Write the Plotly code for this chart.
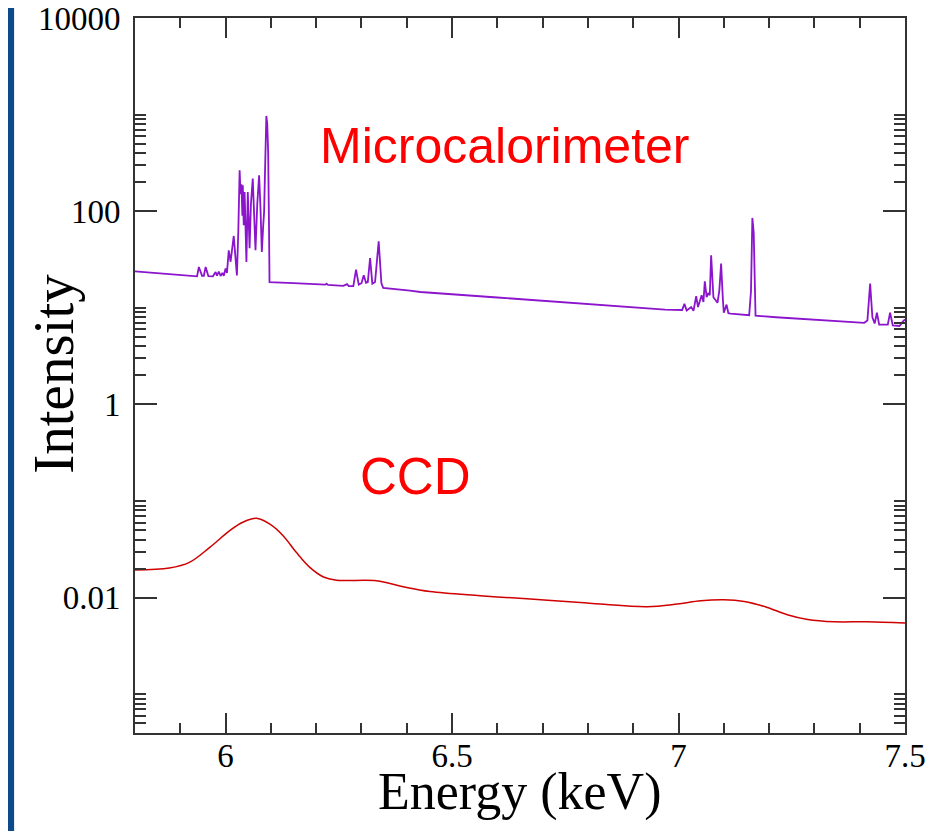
import plotly.graph_objects as go

# Microcalorimeter spectrum (energy keV, intensity)
mc_energy = [5.80, 5.93, 5.937, 5.941, 5.948, 5.952, 5.956, 5.962, 5.972, 5.978, 5.981, 5.985,
             5.989, 5.993, 5.996, 6.000, 6.003, 6.007, 6.011, 6.018, 6.022, 6.025, 6.028, 6.031,
             6.033, 6.035, 6.037, 6.038, 6.040, 6.042, 6.046, 6.049, 6.053, 6.056, 6.060, 6.063,
             6.066, 6.070, 6.074, 6.077, 6.080, 6.083, 6.085, 6.088, 6.090, 6.092, 6.094, 6.096,
             6.097, 6.15, 6.22, 6.223, 6.226, 6.26, 6.268, 6.272, 6.282, 6.288, 6.294, 6.300,
             6.305, 6.310, 6.314, 6.319, 6.324, 6.330, 6.338, 6.344, 6.348, 6.407, 6.43, 6.60,
             6.83, 6.97, 7.008, 7.013, 7.018, 7.028, 7.033, 7.039, 7.043, 7.051, 7.055, 7.058,
             7.062, 7.066, 7.069, 7.072, 7.077, 7.082, 7.086, 7.090, 7.094, 7.098, 7.100, 7.106,
             7.110, 7.115, 7.156, 7.160, 7.163, 7.166, 7.170, 7.215, 7.30, 7.41, 7.417, 7.423,
             7.428, 7.433, 7.438, 7.443, 7.462, 7.467, 7.473, 7.488, 7.495, 7.50]
mc_intensity = [23.9, 21.2, 21.2, 26.5, 21.5, 21.5, 26.5, 21.3, 21.2, 23.5, 21.5, 23.8,
                21.4, 23.0, 21.5, 25.5, 23.0, 39.4, 30.0, 55.5, 35.0, 21.6, 60.0, 266,
                150, 190, 90, 186, 71.6, 158, 29.8, 158, 41.4, 120, 218, 100,
                39.4, 120, 236, 110, 37.8, 70, 98, 400, 970, 800, 411, 60,
                18.5, 18.0, 17.4, 17.8, 17.3, 16.9, 17.6, 16.8, 16.8, 24.9, 17.4, 18.0,
                21.7, 18.2, 18.5, 32.8, 17.8, 18.5, 48.9, 18.0, 16.1, 15.1, 14.6, 12.8,
                10.6, 9.6, 9.5, 11.0, 9.4, 10.2, 9.3, 13.2, 10.2, 13.5, 11.5, 18.8,
                12.9, 14.3, 13.5, 35.0, 12.9, 12.0, 11.3, 15.0, 28.7, 12.0, 8.9, 10.8,
                8.8, 8.7, 8.4, 15.0, 85.3, 60.0, 8.3, 8.0, 7.6, 7.0, 7.4, 17.8,
                8.0, 6.9, 8.9, 6.7, 6.7, 8.9, 6.6, 6.5, 7.2, 7.6]

# CCD spectrum
ccd_energy = [5.80, 5.876, 5.920, 5.965, 6.009, 6.038, 6.068, 6.097, 6.127, 6.156, 6.186,
              6.215, 6.245, 6.333, 6.392, 6.451, 6.562, 6.673, 6.783, 6.827, 6.931, 6.997,
              7.049, 7.100, 7.145, 7.196, 7.240, 7.285, 7.344, 7.417, 7.50]
ccd_intensity = [0.0194, 0.0203, 0.0232, 0.0332, 0.0495, 0.0604, 0.0664, 0.058, 0.0439, 0.0295,
                 0.0206, 0.0165, 0.0152, 0.0150, 0.0130, 0.0116, 0.0105, 0.00969, 0.00894,
                 0.00860, 0.00807, 0.0086, 0.0093, 0.00953, 0.00915, 0.00794, 0.00667,
                 0.00596, 0.00564, 0.00564, 0.00547]

x_tickvals = [6, 6.5, 7, 7.5]
x_ticktext = ["6", "6.5", "7", "7.5"]
y_tickvals = [0.01, 1, 100, 10000]
y_ticktext = ["0.01", "1", "100", "10000"]
y_minor_decades = [0.0001, 0.01, 1, 100]
y_minor_vals = [d * m for d in y_minor_decades for m in range(2, 11)]

AX = "#333333"
SERIF = "Liberation Serif"

fig = go.Figure()
fig.add_trace(go.Scatter(x=mc_energy, y=mc_intensity, mode="lines",
                         line=dict(color="#8B14CC", width=1.8), showlegend=False))
fig.add_trace(go.Scatter(x=ccd_energy, y=ccd_intensity, mode="lines", line_shape="spline",
                         line=dict(color="#D00000", width=1.5), showlegend=False))

fig.update_xaxes(range=[5.8, 7.5], tickvals=x_tickvals, ticktext=x_ticktext,
                 ticks="inside", ticklen=20, tickwidth=2, tickcolor=AX,
                 showline=True, linecolor=AX, linewidth=2, mirror="ticks",
                 showgrid=False, zeroline=False, ticklabelstandoff=-8, automargin=False,
                 ticklabeloverflow="allow",
                 tickfont=dict(family=SERIF, size=33, color="black"),
                 minor=dict(dtick=0.1, ticks="inside", ticklen=10, tickwidth=2,
                            tickcolor=AX, showgrid=False))
fig.update_yaxes(type="log", range=[-3.4, 4], tickvals=y_tickvals, ticktext=y_ticktext,
                 ticks="inside", ticklen=22, tickwidth=2, tickcolor=AX,
                 showline=True, linecolor=AX, linewidth=2, mirror="ticks",
                 showgrid=False, zeroline=False, ticklabelstandoff=6, automargin=False,
                 ticklabeloverflow="allow",
                 tickfont=dict(family=SERIF, size=33, color="black"),
                 minor=dict(tickvals=y_minor_vals, ticks="inside", ticklen=11, tickwidth=2,
                            tickcolor=AX, showgrid=False))

# slide background strip on the left
fig.add_shape(type="rect", xref="paper", yref="paper", x0=-0.3, x1=-0.157,
              y0=-0.3, y1=1.2, fillcolor="#0D4A8C", line_width=0, layer="below")

fig.add_annotation(text="Microcalorimeter", x=6.617, y=2.674, xref="x", yref="y",
                   showarrow=False, font=dict(family="Liberation Sans", size=50, color="#FF0000"))
fig.add_annotation(text="CCD", x=6.42, y=-0.746, xref="x", yref="y",
                   showarrow=False, font=dict(family="Liberation Sans", size=51, color="#FF0000"))
fig.add_annotation(text="Energy (keV)", x=0.5, y=-0.082, xref="paper", yref="paper",
                   showarrow=False, yanchor="middle",
                   font=dict(family=SERIF, size=52, color="black"))
fig.add_annotation(text="Intensity", x=-0.106, y=0.503, xref="paper", yref="paper",
                   showarrow=False, textangle=-90, xanchor="center",
                   font=dict(family=SERIF, size=57, color="black"))

fig.update_layout(width=922, height=823, paper_bgcolor="white", plot_bgcolor="white",
                  margin=dict(l=127, r=25, t=10, b=98), showlegend=False)

fig.write_html("out.html")
